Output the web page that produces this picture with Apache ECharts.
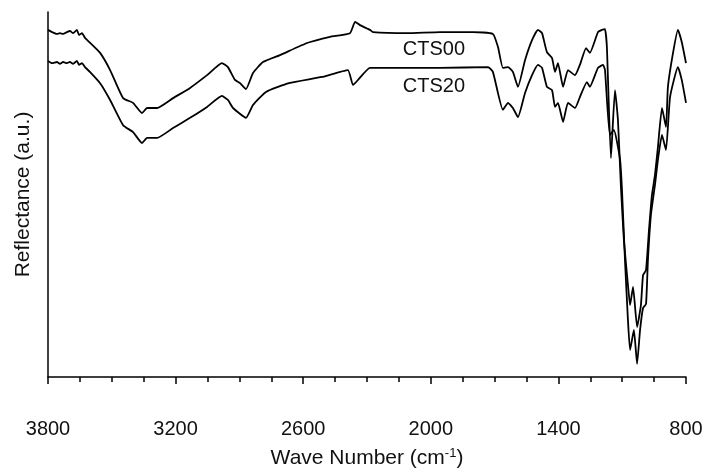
<!DOCTYPE html>
<html>
<head>
  <meta charset="utf-8">
  <title>CTS reflectance</title>
  <script src="https://cdn.jsdelivr.net/npm/echarts@6/dist/echarts.min.js"></script>
  <style>
    html, body { margin: 0; padding: 0; background: #fff; }
    #chart { width: 703px; height: 469px; }
  </style>
</head>
<body>
<div id="chart"></div>
<script type="text/javascript">
// wave numbers (cm-1) and reflectance (a.u.)
var cts00Wave = [3800, 3781, 3758, 3744, 3729, 3711, 3697, 3682, 3664, 3654, 3640, 3626, 3612,
  3555, 3508, 3447, 3400, 3358, 3334, 3311, 3287, 3212, 3132, 3052, 2982, 2954, 2921, 2897,
  2869, 2836, 2789, 2709, 2582, 2474, 2380, 2356, 2333, 2286, 2272, 2112, 1957, 1802, 1708,
  1684, 1661, 1637, 1614, 1590, 1557, 1524, 1496, 1477, 1454, 1430, 1416, 1402, 1378, 1355,
  1322, 1299, 1270, 1252, 1214, 1195, 1181, 1172, 1153, 1134, 1120, 1106, 1092, 1073, 1063,
  1049, 1030, 1012, 1002, 988, 974, 960, 946, 932, 913, 894, 885, 861, 838, 820, 800];
var cts00Refl = [95.1, 94.5, 94.0, 94.2, 94.0, 94.5, 94.8, 94.2, 95.1, 93.7, 94.2, 92.9, 92.1,
  88.8, 84.1, 76.4, 75.1, 72.3, 73.7, 73.7, 73.7, 76.4, 79.2, 82.7, 86.0, 84.9, 81.4, 80.5,
  78.9, 83.3, 86.3, 88.2, 91.5, 93.2, 94.2, 97.3, 96.4, 95.1, 94.5, 94.2, 94.5, 94.5, 94.0,
  90.4, 84.7, 84.9, 83.6, 79.5, 86.8, 92.3, 95.1, 94.2, 89.0, 87.4, 83.6, 86.0, 79.5, 84.1,
  82.7, 85.5, 90.1, 88.8, 94.5, 95.1, 95.3, 90.4, 60.0, 78.6, 70.4, 52.1, 37.5, 25.2, 19.7,
  24.7, 13.7, 19.7, 27.9, 29.3, 40.3, 49.9, 55.3, 63.0, 73.7, 68.5, 79.5, 88.8, 95.1, 91.8, 86.0];

var cts20Wave = [3800, 3781, 3758, 3744, 3729, 3711, 3697, 3682, 3664, 3654, 3640, 3626, 3603,
  3555, 3508, 3447, 3400, 3358, 3334, 3287, 3212, 3132, 3052, 2982, 2954, 2930, 2869, 2836,
  2775, 2667, 2512, 2390, 2366, 2342, 2286, 2112, 1957, 1731, 1708, 1661, 1637, 1614, 1590,
  1557, 1524, 1496, 1477, 1454, 1430, 1416, 1402, 1378, 1355, 1322, 1299, 1266, 1252, 1214,
  1190, 1181, 1158, 1139, 1110, 1101, 1087, 1073, 1063, 1045, 1030, 1016, 1002, 988, 979,
  965, 946, 932, 913, 894, 875, 838, 820, 800];
var cts20Refl = [86.6, 86.0, 86.3, 85.8, 86.3, 86.0, 86.3, 85.8, 86.6, 85.5, 86.0, 84.9, 83.6,
  80.5, 75.9, 69.0, 67.1, 64.1, 65.5, 65.5, 68.2, 71.0, 74.0, 77.0, 75.9, 73.7, 71.0, 74.5,
  78.1, 80.5, 82.2, 84.1, 80.0, 81.4, 84.7, 84.7, 84.7, 84.9, 83.6, 73.2, 75.1, 73.7, 71.2,
  77.8, 82.7, 85.5, 84.7, 79.5, 78.6, 74.0, 75.1, 69.9, 75.1, 73.7, 76.7, 80.8, 79.5, 84.7,
  85.5, 84.1, 66.3, 67.7, 59.5, 51.2, 32.1, 15.6, 7.4, 12.9, 3.6, 12.9, 18.9, 20.0, 32.1,
  44.4, 52.6, 59.5, 66.3, 62.2, 76.7, 84.9, 81.4, 75.1];

var majorTicks = [800, 1400, 2000, 2600, 3200, 3800];
var minorTicks = [950, 1100, 1250, 1550, 1700, 1850, 2150, 2300, 2450, 2750, 2900, 3050, 3350, 3500, 3650];

// where the two series names sit (wave number, reflectance)
var nameSpots = { CTS00: [1985, 89.6], CTS20: [1985, 79.7] };

var font = 'Arial, "Liberation Sans", sans-serif';

function pairs(xs, ys) {
  var out = [];
  for (var i = 0; i < xs.length; i++) out.push([xs[i], ys[i]]);
  return out;
}

function spectrum(name, xs, ys) {
  return {
    name: name,
    type: 'line',
    data: pairs(xs, ys),
    showSymbol: false,
    smooth: 0.15,
    lineStyle: { color: '#000', width: 1.8 },
    animation: false,
    markPoint: {
      symbol: 'circle',
      symbolSize: 0,
      label: { show: true, position: 'inside', formatter: name, color: '#111', fontSize: 20, fontFamily: font },
      data: [{ coord: nameSpots[name] }]
    }
  };
}

var myChart = echarts.init(document.getElementById('chart'));
myChart.setOption({
  backgroundColor: '#fff',
  grid: { left: 48, right: 17, top: 12, bottom: 92, outerBoundsMode: 'none' },
  xAxis: [{
    type: 'value', min: 800, max: 3800, inverse: true,
    name: 'Wave Number (cm{sup|-1})', nameLocation: 'middle', nameGap: 70,
    nameTextStyle: {
      color: '#111', fontSize: 21, fontFamily: font,
      rich: { sup: { fontSize: 13, verticalAlign: 'top', padding: [0, 0, 10, 0], fontFamily: font, color: '#111' } }
    },
    axisLine: { onZero: false, lineStyle: { color: '#000', width: 1.5 } },
    axisTick: { show: true, length: 7, customValues: majorTicks, lineStyle: { color: '#000', width: 1.5 } },
    axisLabel: {
      customValues: majorTicks, margin: 42, color: '#111', fontSize: 20, fontFamily: font,
      formatter: function (v) { return String(v); }
    },
    splitLine: { show: false }
  }, {
    type: 'value', min: 800, max: 3800, inverse: true, position: 'bottom',
    axisLine: { show: false },
    axisTick: { show: true, length: 5, customValues: minorTicks, lineStyle: { color: '#000', width: 1.5 } },
    axisLabel: { show: false },
    splitLine: { show: false }
  }],
  yAxis: {
    type: 'value', min: 0, max: 100,
    name: 'Reflectance (a.u.)', nameLocation: 'middle', nameGap: 14,
    nameTextStyle: { color: '#111', fontSize: 21, fontFamily: font },
    axisLine: { show: true, lineStyle: { color: '#000', width: 1.5 } },
    axisTick: { show: false },
    axisLabel: { show: false },
    splitLine: { show: false }
  },
  series: [
    spectrum('CTS00', cts00Wave, cts00Refl),
    spectrum('CTS20', cts20Wave, cts20Refl)
  ]
});
</script>
</body>
</html>
